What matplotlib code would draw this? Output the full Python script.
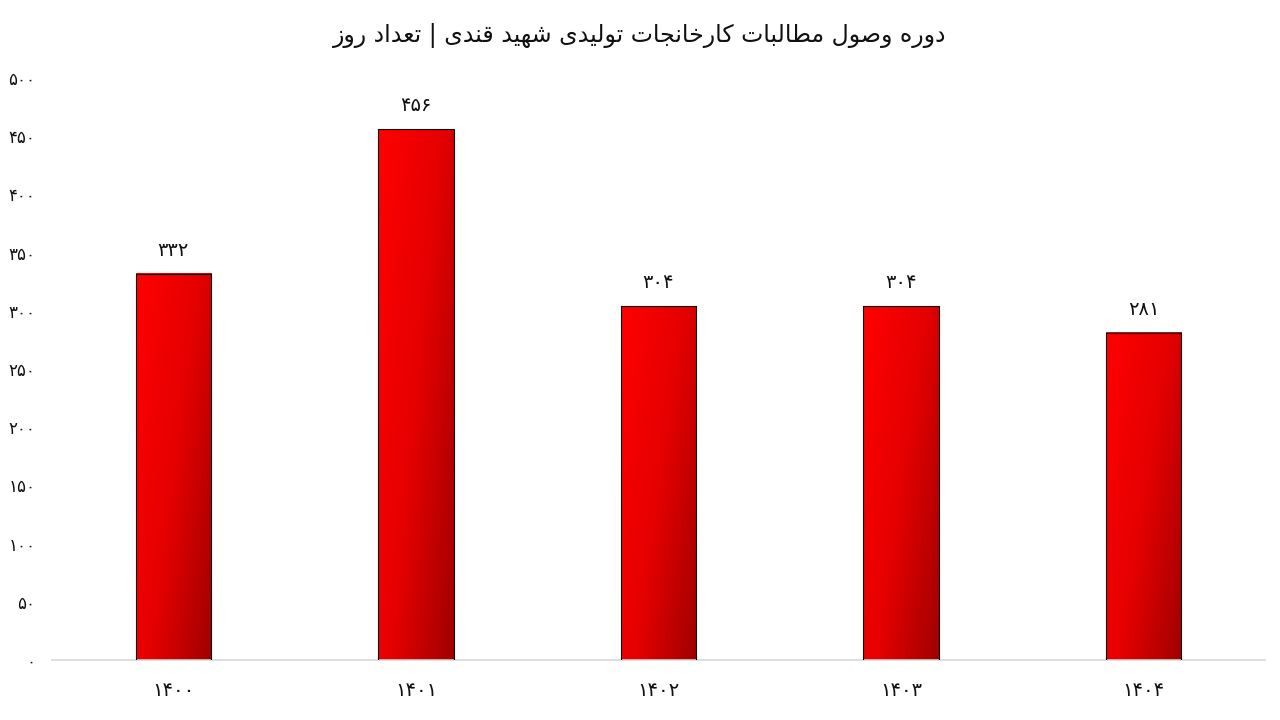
import matplotlib
matplotlib.use("Agg")
import matplotlib.pyplot as plt
import numpy as np
from matplotlib.colors import LinearSegmentedColormap

years = ["1400", "1401", "1402", "1403", "1404"]
days = [332, 456, 304, 304, 281]
yticks = [0, 50, 100, 150, 200, 250, 300, 350, 400, 450, 500]
title = "دوره وصول مطالبات کارخانجات تولیدی شهید قندی | تعداد روز"

FA_DIGITS = str.maketrans("0123456789", "۰۱۲۳۴۵۶۷۸۹")

# presentation forms: isolated, final, initial, medial
FORMS = {
    "ا": ("\uFE8D", "\uFE8E", None, None),
    "ب": ("\uFE8F", "\uFE90", "\uFE91", "\uFE92"),
    "ت": ("\uFE95", "\uFE96", "\uFE97", "\uFE98"),
    "ج": ("\uFE9D", "\uFE9E", "\uFE9F", "\uFEA0"),
    "خ": ("\uFEA5", "\uFEA6", "\uFEA7", "\uFEA8"),
    "د": ("\uFEA9", "\uFEAA", None, None),
    "ر": ("\uFEAD", "\uFEAE", None, None),
    "ز": ("\uFEAF", "\uFEB0", None, None),
    "ش": ("\uFEB5", "\uFEB6", "\uFEB7", "\uFEB8"),
    "ص": ("\uFEB9", "\uFEBA", "\uFEBB", "\uFEBC"),
    "ط": ("\uFEC1", "\uFEC2", "\uFEC3", "\uFEC4"),
    "ع": ("\uFEC9", "\uFECA", "\uFECB", "\uFECC"),
    "ق": ("\uFED5", "\uFED6", "\uFED7", "\uFED8"),
    "ل": ("\uFEDD", "\uFEDE", "\uFEDF", "\uFEE0"),
    "م": ("\uFEE1", "\uFEE2", "\uFEE3", "\uFEE4"),
    "ن": ("\uFEE5", "\uFEE6", "\uFEE7", "\uFEE8"),
    "ه": ("\uFEE9", "\uFEEA", "\uFEEB", "\uFEEC"),
    "و": ("\uFEED", "\uFEEE", None, None),
    "ی": ("\uFBFC", "\uFBFD", "\uFBFE", "\uFBFF"),
    "ک": ("\uFB8E", "\uFB8F", "\uFB90", "\uFB91"),
}


def shape(text):
    out = []
    for i, c in enumerate(text):
        if c not in FORMS:
            out.append(c)
            continue
        f = FORMS[c]
        prev = text[i - 1] if i > 0 else ""
        nxt = text[i + 1] if i + 1 < len(text) else ""
        jp = prev in FORMS and FORMS[prev][2] is not None
        jn = f[2] is not None and nxt in FORMS
        if jp and jn:
            out.append(f[3])
        elif jp:
            out.append(f[1])
        elif jn:
            out.append(f[2])
        else:
            out.append(f[0])
    return "".join(reversed(out))


plt.rcParams["font.family"] = ["DejaVu Sans"]

fig = plt.figure(figsize=(12.8, 7.2), dpi=100)
ax = fig.add_axes([52 / 1280, 60 / 720, 1213 / 1280, 582 / 720])

x = np.arange(len(years))
bars = ax.bar(x, days, width=0.31, facecolor="none", edgecolor="black",
              linewidth=0.8, zorder=3)

cmap = LinearSegmentedColormap.from_list("redgrad", ["#ff0000", "#e60000", "#a00000"])
gx, gy = np.meshgrid(np.linspace(0, 1, 120), np.linspace(0, 1, 120))
grad = 0.6 * gx + 0.4 * gy
for b in bars:
    ax.imshow(grad, cmap=cmap, aspect="auto", interpolation="bilinear",
              extent=[b.get_x(), b.get_x() + b.get_width(), 0, b.get_height()],
              zorder=2)
    ax.annotate(str(int(b.get_height())).translate(FA_DIGITS),
                (b.get_x() + b.get_width() / 2, b.get_height()),
                xytext=(0, 10), textcoords="offset points",
                ha="center", va="bottom", fontsize=14, color="#111111")

ax.set_xlim(-0.5, len(years) - 0.5)
ax.set_ylim(0, 500)
ax.set_xticks(x)
ax.set_xticklabels([y.translate(FA_DIGITS) for y in years], fontsize=14, color="#111111")
ax.set_yticks(yticks)
ax.set_yticklabels([str(v).translate(FA_DIGITS) for v in yticks], fontsize=12, color="#111111")
ax.tick_params(axis="x", length=0, pad=15)
ax.tick_params(axis="y", length=0, pad=12)
for s in ["top", "right", "left"]:
    ax.spines[s].set_visible(False)
ax.spines["bottom"].set_color("#d9d9d9")
ax.spines["bottom"].set_linewidth(1.2)

fig.text(0.5, 1 - 35 / 720, shape(title), ha="center", va="center",
         fontsize=17, color="#111111")

fig.savefig("out.png", dpi=100)
